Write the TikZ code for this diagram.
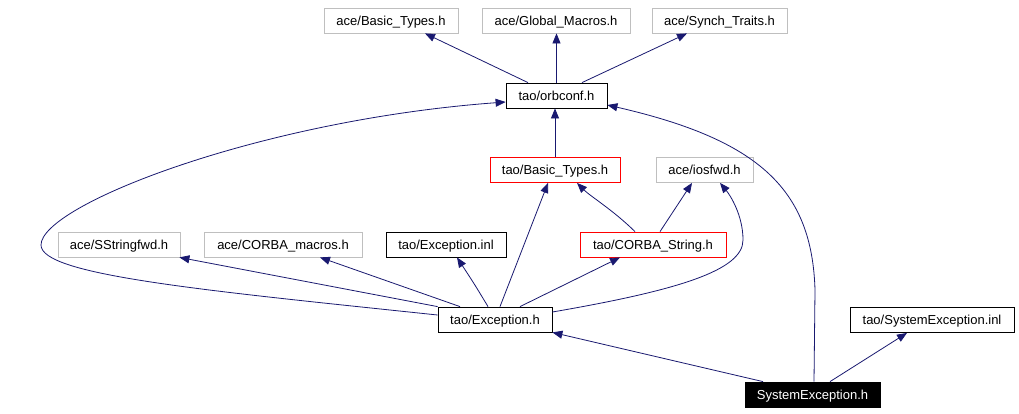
\documentclass[tikz,border=0pt]{standalone}
\usepackage{fontspec}
\setmainfont{Liberation Sans}
\usetikzlibrary{arrows.meta,calc}
\definecolor{edgeblue}{HTML}{191970}
\definecolor{gry}{HTML}{BFBFBF}
\begin{document}
\begin{tikzpicture}[x=1pt,y=-1pt,
  box/.style={draw=black, line width=0.8pt, inner sep=0pt, minimum height=25pt, text height=9.3pt, text depth=0pt, fill=white, font=\fontsize{13}{15}\selectfont},
  extbox/.style={box, draw=gry},
  redbox/.style={box, draw=red},
  curbox/.style={box, fill=black, text=white},
  dep/.style={draw=edgeblue, line width=0.8pt, -{Triangle[length=10pt,width=8pt]}}]
\useasboundingbox[fill=white] (0,0) rectangle (1019,413);
\node[extbox, minimum width=134pt] (aBT) at (391,20.5) {ace/Basic\_Types.h};
\node[extbox, minimum width=148pt] (aGM) at (556,20.5) {ace/Global\_Macros.h};
\node[extbox, minimum width=135pt] (aST) at (719.5,20.5) {ace/Synch\_Traits.h};
\node[box, minimum width=101pt] (orb) at (556.5,95.5) {tao/orbconf.h};
\node[redbox, minimum width=130pt] (tBT) at (555,170) {tao/Basic\_Types.h};
\node[extbox, minimum width=97pt] (ios) at (704.5,170) {ace/iosfwd.h};
\node[extbox, minimum width=122pt] (SSf) at (119,244.5) {ace/SStringfwd.h};
\node[extbox, minimum width=158pt] (CMa) at (283,244.5) {ace/CORBA\_macros.h};
\node[box, minimum width=120pt] (Einl) at (446,244.5) {tao/Exception.inl};
\node[redbox, minimum width=146pt] (CS) at (653,244.5) {tao/CORBA\_String.h};
\node[box, minimum width=114pt] (Eh) at (495,319.5) {tao/Exception.h};
\node[box, minimum width=164pt] (SEinl) at (932,320) {tao/SystemException.inl};
\node[curbox, minimum width=135pt] (SEh) at (812.5,394.5) {SystemException.h};

\draw[dep] ([xshift=-28.5pt]orb.north) -- ([xshift=34pt]aBT.south);
\draw[dep] (orb.north) -- (orb.north |- aGM.south);
\draw[dep] ([xshift=25.5pt]orb.north) -- ([xshift=-32.5pt]aST.south);
\draw[dep] (tBT.north) -- (tBT.north |- orb.south);
\draw[dep] ([xshift=-18pt]CS.north) .. controls (613,210) and (590,196) .. ([xshift=22pt]tBT.south);
\draw[dep] ([xshift=7pt]CS.north) -- ([xshift=-12.5pt]ios.south);
\draw[dep] (Eh.north west) -- ([xshift=-1pt]SSf.south east);
\draw[dep] ([xshift=-35pt]Eh.north) -- ([xshift=37pt]CMa.south);
\draw[dep] ([xshift=-7pt]Eh.north) .. controls (475,285) .. ([xshift=11pt]Einl.south);
\draw[dep] ([xshift=5pt]Eh.north) -- ([xshift=-7pt]tBT.south);
\draw[dep] ([xshift=25pt]Eh.north) -- ([xshift=-33pt]CS.south);
\draw[dep] ([yshift=7.5pt]Eh.east) .. controls (680,290) and (743,270) .. (743,240)
  .. controls (743,215) and (730,195) .. ([xshift=15.5pt]ios.south);
\draw[dep] ([yshift=4.5pt]Eh.west) .. controls (200,290) and (41,275) .. (41,245)
  .. controls (41,205) and (260,120) .. ([yshift=-6.5pt]orb.west);
\draw[dep] ([xshift=-49.5pt]SEh.north) -- (Eh.south east);
\draw[dep] ([xshift=17.5pt]SEh.north) -- ([xshift=-25pt]SEinl.south);
\draw[dep] ([xshift=1.5pt]SEh.north) -- (815,290) .. controls (812,190) and (760,140) .. ([yshift=-9.5pt]orb.east);
\end{tikzpicture}
\end{document}
